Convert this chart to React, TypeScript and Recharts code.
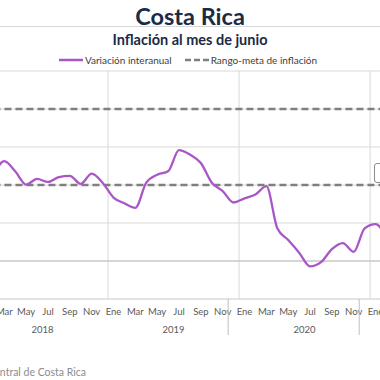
import { LineChart, Line, XAxis, YAxis, CartesianGrid, ReferenceLine, Legend } from 'recharts';

// Meses y años del eje horizontal
const meses = ['Ene', 'Feb', 'Mar', 'Abr', 'May', 'Jun', 'Jul', 'Ago', 'Sep', 'Oct', 'Nov', 'Dic'];
const anios = [2018, 2019, 2020, 2021];

// Variación interanual del IPC (%), ene-2018 a feb-2021
const variacionInteranual = [
  null, 2.25, 2.63, 2.36, 2.01, 2.16, 2.08, 2.21, 2.24, 2.03, 2.3, 2.06,
  1.67, 1.52, 1.4, 2.06, 2.27, 2.36, 2.92, 2.8, 2.58, 2.06, 1.84, 1.54,
  1.65, 1.75, 1.97, 0.86, 0.55, 0.22, -0.14, -0.03, 0.31, 0.47, 0.24, 0.86,
  0.97, 0.63,
];

// Rango-meta de inflación (%)
const rangoMetaSuperior = 4;
const rangoMetaInferior = 2;

const ticksY = [-1, 0, 1, 2, 3, 4, 5];
// meses (índice) tras los cuales aparece un separador de año en el eje
const separadoresAnio = [22, 34];

const MES_PX = 10.92;
const DOMINIO: [number, number] = [-0.5, 38.5];
const ANCHO = (DOMINIO[1] - DOMINIO[0]) * MES_PX;
const DESPLAZAMIENTO = -23.5;

const FUENTE = 'Lato, "Open Sans", sans-serif';
const MORADO = '#a957c8';
const GRIS_META = '#7f7f7f';

const data = variacionInteranual.map((v, i) => ({
  m: i,
  variacion: v,
  metaSup: rangoMetaSuperior,
  metaInf: rangoMetaInferior,
}));

function MesTick(props: any) {
  const { x, y, payload } = props;
  const i = payload.value as number;
  return (
    <g>
      {i % 2 === 0 && (
        <text x={x} y={y + 16} textAnchor="middle" fontSize={9.5} fontFamily={FUENTE} fill="#595959">
          {meses[i % 12]}
        </text>
      )}
      {i % 12 === 5 && (
        <text x={x + MES_PX / 2} y={y + 34} textAnchor="middle" fontSize={9.5} fontFamily={FUENTE} fill="#595959">
          {anios[Math.floor(i / 12)]}
        </text>
      )}
      {separadoresAnio.includes(i) && (
        <line x1={x + MES_PX / 2} x2={x + MES_PX / 2} y1={y} y2={y + 36} stroke="#bfbfbf" />
      )}
    </g>
  );
}

function Leyenda(props: any) {
  const items = (props.payload || [])
    .filter((it: any) => it.type !== 'none' && it.dataKey !== 'metaInf')
    .sort((a: any) => (a.dataKey === 'variacion' ? -1 : 1));
  return (
    <div style={{ display: 'flex', justifyContent: 'center', gap: 13, paddingRight: 4, fontFamily: FUENTE, fontSize: 10, color: '#404040' }}>
      {items.map((it: any) => (
        <div key={it.dataKey} style={{ display: 'flex', alignItems: 'center', gap: 2 }}>
          <svg width={24} height={6}>
            <line x1={0} x2={24} y1={3} y2={3} stroke={it.color} strokeWidth={2.5}
              strokeDasharray={it.dataKey === 'variacion' ? undefined : '6 3'} />
          </svg>
          <span>{it.value}</span>
        </div>
      ))}
    </div>
  );
}

export default function App() {
  return (
    <div style={{ position: 'fixed', left: 0, top: 0, width: 380, height: 380, overflow: 'hidden', background: '#fff', fontFamily: FUENTE }}>
      <div style={{ position: 'absolute', top: 4, left: 0, width: 380, textAlign: 'center', fontSize: 23.5, lineHeight: '24px', fontWeight: 700, color: '#1b2a47' }}>
        Costa Rica
      </div>
      <div style={{ position: 'absolute', top: 26, left: 0, width: 380, height: 1, background: '#d9d9d9' }} />
      <div style={{ position: 'absolute', top: 32, left: 0, width: 380, textAlign: 'center', fontSize: 14.5, lineHeight: '15px', fontWeight: 700, color: '#1b2a47' }}>
        Inflación al mes de junio
      </div>

      <div style={{ position: 'absolute', left: DESPLAZAMIENTO, top: 0 }}>
        <LineChart width={ANCHO} height={380} data={data} margin={{ top: 71, right: 0, bottom: 41, left: 0 }}>
          <CartesianGrid vertical={false} stroke="#d9d9d9" />
          <XAxis
            dataKey="m"
            type="number"
            domain={DOMINIO}
            ticks={data.map((d) => d.m)}
            interval={0}
            tickLine={false}
            tickSize={0}
            tickMargin={0}
            axisLine={{ stroke: '#d9d9d9' }}
            height={40}
            tick={<MesTick />}
          />
          <YAxis hide domain={[-1, 5]} ticks={ticksY} />
          {anios.slice(1).map((a, k) => (
            <ReferenceLine key={a} x={(k + 1) * 12 - 0.5} stroke="#d9d9d9" />
          ))}
          <ReferenceLine y={0} stroke="#bfbfbf" />
          <Legend
            verticalAlign="middle"
            layout="horizontal"
            content={<Leyenda />}
            wrapperStyle={{ top: 54, left: -DESPLAZAMIENTO, width: 380, height: 14 }}
          />
          <Line dataKey="metaSup" name="Rango-meta de inflación" stroke={GRIS_META} strokeWidth={2.5} strokeDasharray="7 4" dot={false} isAnimationActive={false} />
          <Line dataKey="metaInf" name="Rango-meta inferior" legendType="none" stroke={GRIS_META} strokeWidth={2.5} strokeDasharray="7 4" dot={false} isAnimationActive={false} />
          <Line dataKey="variacion" name="Variación interanual" type="monotone" stroke={MORADO} strokeWidth={2.3} dot={false} isAnimationActive={false} />
        </LineChart>
      </div>

      <div style={{ position: 'absolute', top: 163, left: 374, width: 14, height: 18, border: '1px solid #8c8c8c', borderRadius: 3 }} />
      <div style={{ position: 'absolute', top: 366, right: 294, whiteSpace: 'nowrap', fontSize: 10.5, color: '#8c8c8c' }}>
        Fuente: Banco Central de Costa Rica
      </div>
    </div>
  );
}
